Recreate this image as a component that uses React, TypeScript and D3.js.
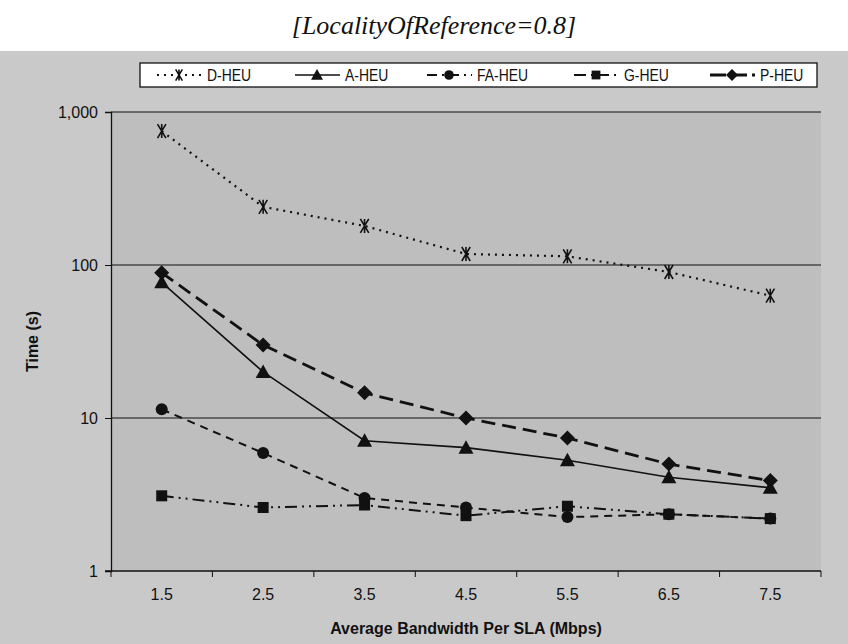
import React, { useEffect, useRef } from 'react';
import * as d3 from 'd3';

// categories on the x axis (Mbps)
const bandwidths = ['1.5', '2.5', '3.5', '4.5', '5.5', '6.5', '7.5'];

// series values, seconds (log axis)
const dHeu = [750, 240, 180, 118, 114, 90, 63];
const aHeu = [77, 20, 7.1, 6.4, 5.3, 4.1, 3.5];
const faHeu = [11.4, 5.9, 3.0, 2.6, 2.25, 2.35, 2.2];
const gHeu = [3.1, 2.6, 2.7, 2.3, 2.65, 2.35, 2.2];
const pHeu = [89, 30, 14.6, 10, 7.4, 5.0, 3.9];

const yTicks = [1, 10, 100, 1000];

const seriesNames = ['D-HEU', 'A-HEU', 'FA-HEU', 'G-HEU', 'P-HEU'];

const App = () => {
  const svgRef = useRef<SVGSVGElement>(null);

  useEffect(() => {
    const svg = d3.select(svgRef.current);
    svg.selectAll('*').remove();

    const W = 848, H = 644;
    const plot = { left: 111, right: 821, top: 112, bottom: 571 };

    // backgrounds
    svg.append('rect').attr('width', W).attr('height', H).attr('fill', '#fff');
    svg.append('rect').attr('x', 0).attr('y', 51).attr('width', W).attr('height', H - 51).attr('fill', '#c9c9c9');
    svg.append('rect')
      .attr('x', plot.left).attr('y', plot.top)
      .attr('width', plot.right - plot.left).attr('height', plot.bottom - plot.top)
      .attr('fill', '#bebebe');

    // title
    svg.append('text')
      .attr('x', 434).attr('y', 34)
      .attr('text-anchor', 'middle')
      .style('font-family', '"Liberation Serif", "Times New Roman", serif')
      .style('font-style', 'italic')
      .style('font-size', '26px')
      .attr('fill', '#111')
      .text('[LocalityOfReference=0.8]');

    const x = d3.scaleBand().domain(bandwidths).range([plot.left, plot.right]);
    const y = d3.scaleLog().domain([1, 1000]).range([plot.bottom, plot.top]);
    const cx = (i: number) => (x(bandwidths[i]) as number) + x.bandwidth() / 2;

    // gridlines
    svg.append('g').selectAll('line')
      .data([10, 100, 1000])
      .enter().append('line')
      .attr('x1', plot.left).attr('x2', plot.right)
      .attr('y1', d => y(d)).attr('y2', d => y(d))
      .attr('stroke', '#111').attr('stroke-width', 1.2);

    // y axis
    const yAxis = svg.append('g')
      .attr('transform', `translate(${plot.left},0)`)
      .call(d3.axisLeft(y).tickValues(yTicks).tickFormat(d3.format(',')).tickSize(6).tickPadding(7));
    yAxis.select('.domain').attr('stroke', '#111').attr('stroke-width', 1.3);
    yAxis.selectAll('line').attr('stroke', '#111');
    yAxis.selectAll('text')
      .style('font-family', '"Liberation Sans", Arial, sans-serif')
      .style('font-size', '16px').attr('fill', '#111');

    // x axis: ticks between categories, labels centred
    const xg = svg.append('g');
    xg.append('line')
      .attr('x1', plot.left - 6).attr('x2', plot.right)
      .attr('y1', plot.bottom).attr('y2', plot.bottom)
      .attr('stroke', '#111').attr('stroke-width', 1.3);
    const bounds = bandwidths.map(b => x(b) as number).concat([plot.right]);
    xg.selectAll('.tk').data(bounds).enter().append('line')
      .attr('x1', d => d).attr('x2', d => d)
      .attr('y1', plot.bottom).attr('y2', plot.bottom + 6)
      .attr('stroke', '#111');
    xg.selectAll('.lbl').data(bandwidths).enter().append('text')
      .attr('x', (d, i) => cx(i)).attr('y', plot.bottom + 29)
      .attr('text-anchor', 'middle')
      .style('font-family', '"Liberation Sans", Arial, sans-serif')
      .style('font-size', '16px').attr('fill', '#111')
      .text(d => d);

    // axis titles
    svg.append('text')
      .attr('x', (plot.left + plot.right) / 2).attr('y', 634)
      .attr('text-anchor', 'middle')
      .style('font-family', '"Liberation Sans", Arial, sans-serif')
      .style('font-weight', 'bold').style('font-size', '16px').attr('fill', '#111')
      .text('Average Bandwidth Per SLA (Mbps)');
    svg.append('text')
      .attr('transform', `translate(38,${(plot.top + plot.bottom) / 2}) rotate(-90)`)
      .attr('text-anchor', 'middle')
      .style('font-family', '"Liberation Sans", Arial, sans-serif')
      .style('font-weight', 'bold').style('font-size', '16px').attr('fill', '#111')
      .text('Time (s)');

    // series styles
    const styles = [
      { name: seriesNames[0], data: dHeu, dash: '2,5', legendDash: '2,5', width: 2.2, marker: 'star' },
      { name: seriesNames[1], data: aHeu, dash: null, legendDash: null, width: 1.6, marker: 'triangle' },
      { name: seriesNames[2], data: faHeu, dash: '8,6', legendDash: '10,5,2,5', width: 2, marker: 'circle' },
      { name: seriesNames[3], data: gHeu, dash: '12,5,2,5,2,5', legendDash: '12,5,2,4', width: 2, marker: 'square' },
      { name: seriesNames[4], data: pHeu, dash: '14,7', legendDash: '16,5', width: 2.8, marker: 'diamond' },
    ];

    const drawMarker = (g: any, kind: string, px: number, py: number, s = 1) => {
      if (kind === 'star') {
        const r = 7 * s;
        g.append('path')
          .attr('d', `M${px - r * 0.6},${py - r}L${px + r * 0.6},${py + r}M${px + r * 0.6},${py - r}L${px - r * 0.6},${py + r}M${px},${py - r}L${px},${py + r}`)
          .attr('stroke', '#111').attr('stroke-width', 1.6).attr('fill', 'none');
      } else if (kind === 'triangle') {
        const r = 7.5 * s;
        g.append('path')
          .attr('d', `M${px},${py - r}L${px + r},${py + r * 0.8}L${px - r},${py + r * 0.8}Z`)
          .attr('fill', '#111');
      } else if (kind === 'circle') {
        g.append('circle').attr('cx', px).attr('cy', py).attr('r', 6 * s).attr('fill', '#111');
      } else if (kind === 'square') {
        g.append('rect').attr('x', px - 5.5 * s).attr('y', py - 5.5 * s)
          .attr('width', 11 * s).attr('height', 11 * s).attr('fill', '#111');
      } else {
        const r = 7.5 * s;
        g.append('path')
          .attr('d', `M${px},${py - r}L${px + r},${py}L${px},${py + r}L${px - r},${py}Z`)
          .attr('fill', '#111');
      }
    };

    const line = d3.line<number>()
      .x((d, i) => cx(i))
      .y(d => y(d));

    styles.forEach(st => {
      const path = svg.append('path')
        .datum(st.data)
        .attr('fill', 'none')
        .attr('stroke', '#111')
        .attr('stroke-width', st.width)
        .attr('d', line);
      if (st.dash) path.attr('stroke-dasharray', st.dash);
      const g = svg.append('g');
      st.data.forEach((v, i) => drawMarker(g, st.marker, cx(i), y(v)));
    });

    // legend
    const legend = svg.append('g');
    legend.append('rect')
      .attr('x', 140).attr('y', 63).attr('width', 677).attr('height', 24)
      .attr('fill', '#fff').attr('stroke', '#111').attr('stroke-width', 1.3);
    const legendX = [157, 295, 427, 574, 710];
    styles.forEach((st, i) => {
      const lx = legendX[i], ly = 75;
      const l = legend.append('line')
        .attr('x1', lx).attr('x2', lx + 45).attr('y1', ly).attr('y2', ly)
        .attr('stroke', '#111').attr('stroke-width', st.width);
      if (st.legendDash) l.attr('stroke-dasharray', st.legendDash);
      drawMarker(legend, st.marker, lx + 22, ly, 0.8);
      // condensed look of the original legend font
      legend.append('text')
        .attr('transform', `translate(${lx + 50},${ly + 6}) scale(0.82,1)`)
        .style('font-family', '"Liberation Sans", Arial, sans-serif')
        .style('font-size', '17px').attr('fill', '#111')
        .text(st.name);
    });
  }, []);

  return (
    <svg ref={svgRef} width={848} height={644}
      style={{ position: 'absolute', left: 0, top: 0, display: 'block' }} />
  );
};

export default App;
